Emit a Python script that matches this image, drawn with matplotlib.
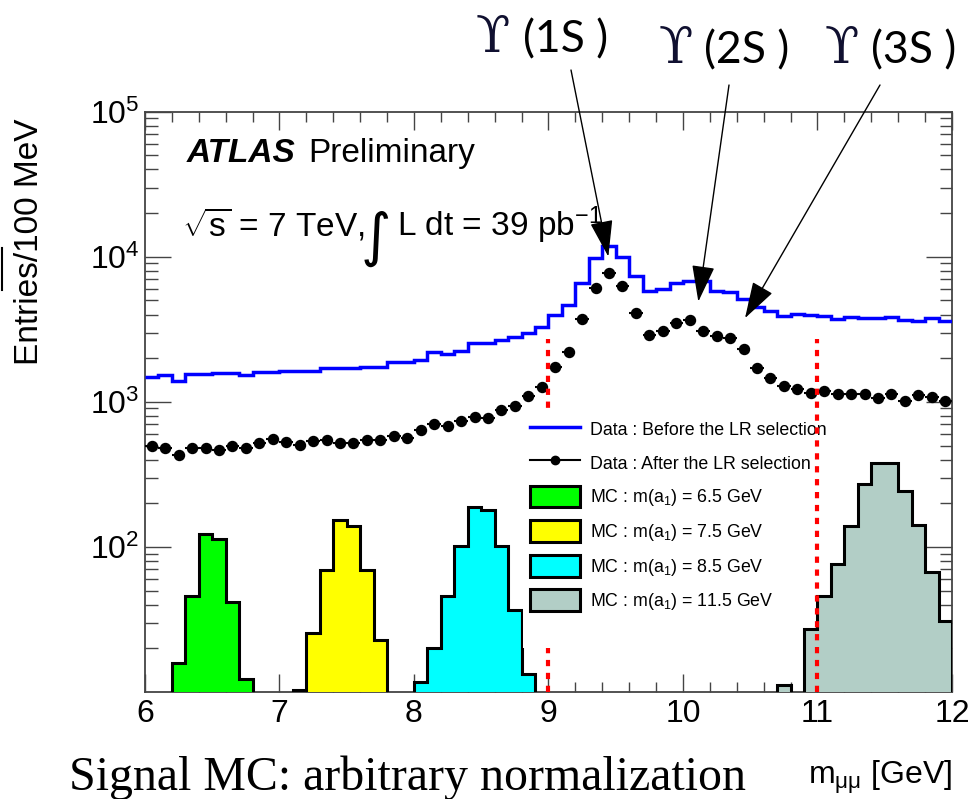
import numpy as np
import matplotlib
matplotlib.use("Agg")
import matplotlib.pyplot as plt
from matplotlib.lines import Line2D
from matplotlib.patches import Patch, Rectangle

plt.rcParams['font.family'] = ['Liberation Sans', 'DejaVu Sans']
plt.rcParams['mathtext.fontset'] = 'custom'
plt.rcParams['mathtext.rm'] = 'Liberation Sans'
plt.rcParams['mathtext.it'] = 'Liberation Sans:italic'
plt.rcParams['mathtext.bf'] = 'Liberation Sans:bold'

# ---------------- data ----------------
x_lo, x_hi, bin_w = 6.0, 12.0, 0.1

before_lr = [1472, 1520, 1403, 1553, 1553, 1577, 1577, 1537, 1603, 1603,
             1636, 1636, 1636, 1709, 1709, 1709, 1738, 1738, 1897, 1897,
             1950, 2189, 2143, 2259, 2541, 2541, 2648, 2820, 3005, 3272,
             4000, 4665, 6577, 9868, 11800, 10030, 7388, 5823, 5980, 6645,
             6823, 6850, 5850, 5700, 5130, 4480, 4230, 3890, 4030, 3950,
             3930, 3740, 3840, 3800, 3790, 3860, 3673, 3580, 3776, 3615]

after_lr = [493, 481, 432, 481, 481, 468, 499, 481, 520, 554,
            529, 507, 534, 542, 520, 520, 548, 548, 578, 563,
            635, 706, 677, 733, 786, 773, 883, 940, 1101, 1256,
            1737, 2223, 3717, 6137, 7780, 6303, 4090, 2898, 3088, 3489,
            3675, 3088, 2851, 2749, 2321, 1698, 1458, 1277, 1231, 1150,
            1180, 1125, 1125, 1125, 1062, 1135, 1018, 1107, 1072, 1018]

mc65_start, mc65 = 6.2, [15.9, 46.2, 123.6, 113.6, 41.5, 12.2]
mc75_start, mc75 = 7.1, [10.3, 25.6, 69.8, 152.5, 140.2, 69.0, 23.0]
mc85_start, mc85 = 8.0, [11.7, 20.2, 46.2, 102, 188, 181, 101, 36.6, 13.4]
mc115_start, mc115 = 10.7, [11.1, 0, 27.2, 46.2, 76.7, 138.6, 273, 379, 379,
                            244, 141, 67.3, 31.0]

mc_labels = ["MC : m(a$_1$) = 6.5 GeV", "MC : m(a$_1$) = 7.5 GeV",
             "MC : m(a$_1$) = 8.5 GeV", "MC : m(a$_1$) = 11.5 GeV"]
mc_colors = ["#00ff00", "#ffff00", "#00ffff", "#b2cec6"]

cuts = [9.0, 11.0]
cut_top = 2700

upsilon_tips_x = [9.445, 10.114, 10.461]
upsilon_tips_y = [10030, 4910, 3776]
upsilon_names = ["(1S )", "(2S )", "(3S )"]

# ---------------- figure ----------------
W, H = 980, 799
fig = plt.figure(figsize=(W / 100, H / 100), dpi=100)
L, R, T, B = 145, 952, 111.7, 692
ax = fig.add_axes([L / W, 1 - B / H, (R - L) / W, (B - T) / H])


def px(x, y):
    return x / W, 1 - y / H


edges = x_lo + bin_w * np.arange(len(before_lr) + 1)
centers = 0.5 * (edges[:-1] + edges[1:])

mc_sets = [(mc65_start, mc65), (mc75_start, mc75), (mc85_start, mc85),
           (mc115_start, mc115)]
for (st, vals), col in zip(mc_sets, mc_colors):
    e = st + bin_w * np.arange(len(vals) + 1)
    v = np.where(np.array(vals, float) > 0, vals, 1e-3)
    ax.stairs(v, e, baseline=1e-3, fill=True, facecolor=col,
              edgecolor='none', zorder=3)
    ax.stairs(v, e, baseline=1e-3, fill=False, color='black',
              linewidth=2.2, zorder=3.1)

ax.stairs(before_lr, edges, baseline=None, color='#0000ff', linewidth=2.5,
          zorder=3.5)
ax.errorbar(centers, after_lr, xerr=bin_w / 2, fmt='o', color='black',
            ms=7.2, elinewidth=1.5, capsize=0, zorder=4)

# cut lines
ax.vlines([cuts[0]], 10, cut_top, colors='red', linestyles=(0, (1.5, 1.6)),
          linewidth=3, zorder=5)
ax.vlines([cuts[1]], 10, cut_top, colors='red', linestyles=(0, (1.5, 1.6)),
          linewidth=3, zorder=6)

ax.set_yscale('log')
ax.set_xlim(x_lo, x_hi)
ax.set_ylim(10, 1e5)
ax.set_xticks(np.arange(6, 13, 1))
ax.set_xticks(np.arange(6, 12.01, 0.2), minor=True)
ax.set_xticklabels([str(i) for i in range(6, 13)])
ax.set_yticks([1e2, 1e3, 1e4, 1e5])
ax.set_yticklabels([r'$10^{2}$', r'$10^{3}$', r'$10^{4}$', r'$10^{5}$'])
ax.yaxis.set_minor_locator(matplotlib.ticker.LogLocator(base=10, subs=np.arange(2, 10)))
ax.yaxis.set_minor_formatter(matplotlib.ticker.NullFormatter())
ax.tick_params(axis='both', which='both', direction='in', top=True, right=True,
               color='#444444', width=1.0)
ax.tick_params(axis='y', which='major', length=19, labelsize=23, pad=4)
ax.tick_params(axis='y', which='minor', length=9)
ax.tick_params(axis='x', which='major', length=13, labelsize=23, pad=5)
ax.tick_params(axis='x', which='minor', length=7)
for s in ax.spines.values():
    s.set_color('#444444')
    s.set_linewidth(1.3)

# legend (white area hides the 9 GeV cut line)
ax.add_patch(Rectangle(((523 - L) / (R - L), (B - 648) / (B - T)),
                       (800 - 523) / (R - L), (648 - 410) / (B - T),
                       transform=ax.transAxes, facecolor='white',
                       edgecolor='none', zorder=5.5))
handles = [Line2D([], [], color='#0000ff', lw=2.5),
           Line2D([], [], color='black', lw=1.5, marker='o', ms=6)]
handles += [Patch(facecolor=c, edgecolor='black', linewidth=2.2) for c in mc_colors]
labels = ["Data : Before the LR selection", "Data : After the LR selection"] + mc_labels
leg = ax.legend(handles, labels, loc='upper left',
                bbox_to_anchor=((530 - L) / (R - L), (B - 418.4) / (B - T)),
                frameon=False, fontsize=12.8, handlelength=2.8,
                handleheight=1.5, handletextpad=0.56, labelspacing=0.67,
                borderpad=0, borderaxespad=0)
leg.set_zorder(5.6)

# texts
fig.text(*px(187, 161.7), "ATLAS", fontsize=24, fontweight='bold',
         style='italic', va='baseline', ha='left')
fig.text(*px(308, 161.7), "Preliminary", fontsize=24, va='baseline', ha='left')
fig.text(*px(182, 235.7), r"$\sqrt{\mathrm{s}}$ = 7 TeV,", fontsize=24,
         va='baseline', ha='left')
fig.text(*px(361, 255), "\u222b", fontsize=42, family='DejaVu Sans',
         va='baseline', ha='left')
fig.text(*px(397, 235.7), r"L dt = 39 pb$^{-1}$", fontsize=24,
         va='baseline', ha='left')

fig.text(*px(30, 242), "Entries/100 MeV", fontsize=24, rotation=90,
         va='center', ha='center')
fig.text(*px(952, 784), "$\\mathrm{m}_{\\mathrm{\u03bc\u03bc}}$ [GeV]", fontsize=23,
         va='baseline', ha='right')
fig.text(*px(69, 790), "Signal MC: arbitrary normalization", fontsize=34.5,
         family='Liberation Serif', va='baseline', ha='left')

# Upsilon labels and arrows
ups_sym_x = [476, 659, 825]
ups_txt_x = [523, 704, 871]
ups_base = [52, 63, 63]
arrow_start = [(571, 70), (729, 85), (880, 85)]
for i in range(3):
    fig.text(*px(ups_sym_x[i], ups_base[i]), "\u03d2", fontsize=36,
             family='DejaVu Serif', va='baseline', ha='left', color='#101030')
    fig.text(*px(ups_txt_x[i], ups_base[i]), upsilon_names[i], fontsize=32,
             family=['Lato', 'DejaVu Sans'], va='baseline', ha='left')
    ax.annotate("", xy=(upsilon_tips_x[i], upsilon_tips_y[i]), xycoords='data',
                xytext=(arrow_start[i][0], H - arrow_start[i][1]),
                textcoords='figure pixels',
                arrowprops=dict(arrowstyle='-|>,head_length=1.15,head_width=0.36',
                                mutation_scale=20, color='black', lw=1.0,
                                shrinkA=0, shrinkB=0),
                annotation_clip=False, zorder=7)

# small stray mark at left edge of the original picture
fig.add_artist(Line2D([1.5 / W, 1.5 / W], [1 - 248 / H, 1 - 290 / H],
                      color='black', lw=1.5))

fig.savefig("out.png", dpi=100)
